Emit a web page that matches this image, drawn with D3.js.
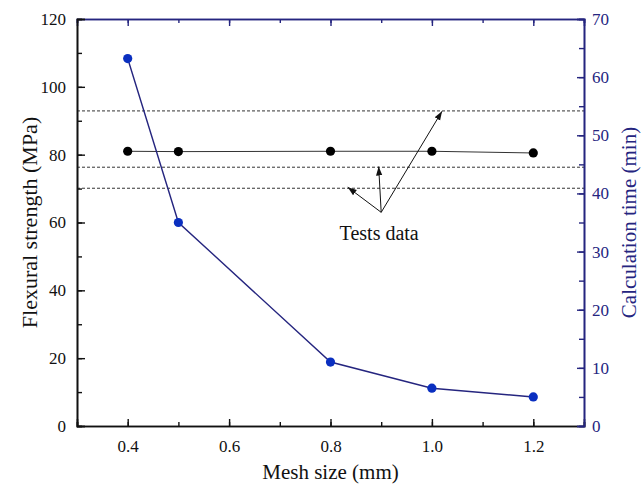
<!DOCTYPE html>
<html>
<head>
<meta charset="utf-8">
<script src="https://cdn.jsdelivr.net/npm/d3@7"></script>
<style>
  body { margin: 0; background: #fff; }
  svg text { font-family: "Liberation Serif", "Times New Roman", Times, "DejaVu Serif", serif !important; }
</style>
</head>
<body>
<script>
// chart values
const meshSize = [0.4, 0.5, 0.8, 1.0, 1.2];
const strength = [81, 80.9, 81, 81, 80.5];       // MPa, left axis
const calcTime = [63.2, 35, 11, 6.5, 5];         // min, right axis
const testLines = [92.9, 76.3, 70.1];            // dashed test data levels (MPa)
const xTicks = [0.4, 0.6, 0.8, 1.0, 1.2];

const navy = "#25257f";
const serif = "'Liberation Serif', 'Times New Roman', Times, serif";
const width = 642, height = 493;
const margin = {top: 19, right: 58, bottom: 67, left: 77};

let svg = d3.select("body").append("svg")
    .attr("width", width)
    .attr("height", height)
    .attr("font-family", serif);

let x = d3.scaleLinear().domain([0.3, 1.3]).range([margin.left, width - margin.right]);
let yL = d3.scaleLinear().domain([0, 120]).range([height - margin.bottom, margin.top]);
let yR = d3.scaleLinear().domain([0, 70]).range([height - margin.bottom, margin.top]);

// dashed reference lines
svg.append("g").selectAll("line")
    .data(testLines)
    .enter().append("line")
    .attr("x1", x(0.3)).attr("x2", x(1.3))
    .attr("y1", d => yL(d)).attr("y2", d => yL(d))
    .style("stroke", "#333")
    .style("stroke-width", 1)
    .style("stroke-dasharray", "3,2");

// axes
function styleAxis(g, color) {
    g.attr("font-family", serif);
    g.select(".domain").style("stroke", color).style("stroke-width", 1.6);
    g.selectAll(".tick line").style("stroke", color).style("stroke-width", 1.4);
    g.selectAll(".tick text")
        .style("fill", color)
        .style("font-size", "17px");
}

// minor ticks first, majors on top
svg.append("g")
    .attr("transform", `translate(0,${height - margin.bottom})`)
    .call(d3.axisBottom(x).tickValues(d3.range(0.3, 1.31, 0.1)).tickSize(-4).tickFormat(""))
    .call(g => styleAxis(g, "#111"));
svg.append("g")
    .attr("transform", `translate(0,${height - margin.bottom})`)
    .call(d3.axisBottom(x).tickValues(xTicks).tickSize(-7).tickPadding(14).tickFormat(d3.format(".1f")))
    .call(g => styleAxis(g, "#111"));

svg.append("g")
    .attr("transform", `translate(0,${margin.top})`)
    .call(d3.axisTop(x).tickValues(d3.range(0.3, 1.31, 0.1)).tickSize(-4).tickFormat(""))
    .call(g => styleAxis(g, navy));
svg.append("g")
    .attr("transform", `translate(0,${margin.top})`)
    .call(d3.axisTop(x).tickValues(xTicks).tickSize(-7).tickFormat(""))
    .call(g => styleAxis(g, navy));

svg.append("g")
    .attr("transform", `translate(${margin.left},0)`)
    .call(d3.axisLeft(yL).ticks(12).tickSize(-5).tickFormat(""))
    .call(g => styleAxis(g, "#111"));
svg.append("g")
    .attr("transform", `translate(${margin.left},0)`)
    .call(d3.axisLeft(yL).ticks(6).tickSize(-8).tickPadding(11))
    .call(g => styleAxis(g, "#111"));

svg.append("g")
    .attr("transform", `translate(${width - margin.right},0)`)
    .call(d3.axisRight(yR).ticks(14).tickSize(-5).tickFormat(""))
    .call(g => styleAxis(g, navy));
svg.append("g")
    .attr("transform", `translate(${width - margin.right},0)`)
    .call(d3.axisRight(yR).ticks(7).tickSize(-7).tickPadding(8))
    .call(g => styleAxis(g, navy));

// axis titles
svg.append("text")
    .attr("x", x(0.8)).attr("y", 479)
    .attr("text-anchor", "middle")
    .style("font-size", "21px").style("fill", "#111")
    .text("Mesh size (mm)");
svg.append("text")
    .attr("transform", `translate(37,${(margin.top + height - margin.bottom) / 2}) rotate(-90)`)
    .attr("text-anchor", "middle")
    .style("font-size", "22px").style("fill", "#111")
    .text("Flexural strength (MPa)");
svg.append("text")
    .attr("transform", `translate(636,${(margin.top + height - margin.bottom) / 2}) rotate(-90)`)
    .attr("text-anchor", "middle")
    .style("font-size", "21px").style("fill", navy)
    .text("Calculation time (min)");

// strength series
let strengthData = meshSize.map((m, i) => ({x: m, y: strength[i]}));
svg.append("path")
    .datum(strengthData)
    .style("fill", "none").style("stroke", "#333").style("stroke-width", 1)
    .attr("d", d3.line().x(d => x(d.x)).y(d => yL(d.y)));
svg.append("g").selectAll("circle")
    .data(strengthData)
    .enter().append("circle")
    .attr("cx", d => x(d.x)).attr("cy", d => yL(d.y)).attr("r", 4.6)
    .style("fill", "#000");

// calculation time series
let timeData = meshSize.map((m, i) => ({x: m, y: calcTime[i]}));
svg.append("path")
    .datum(timeData)
    .style("fill", "none").style("stroke", navy).style("stroke-width", 1.4)
    .attr("d", d3.line().x(d => x(d.x)).y(d => yR(d.y)));
svg.append("g").selectAll("circle")
    .data(timeData)
    .enter().append("circle")
    .attr("cx", d => x(d.x)).attr("cy", d => yR(d.y)).attr("r", 4.6)
    .style("fill", "#0a2fc0");

// "Tests data" annotation with arrows
svg.append("defs").append("marker")
    .attr("id", "arrow")
    .attr("viewBox", "0 0 10 10")
    .attr("refX", 10).attr("refY", 5)
    .attr("markerWidth", 9).attr("markerHeight", 9)
    .attr("markerUnits", "userSpaceOnUse")
    .attr("orient", "auto")
    .append("path")
    .attr("d", "M0,1.5 L10,5 L0,8.5 Z")
    .style("fill", "#111");

let origin = {x: 0.9, y: 63};   // in x / left-axis units
let arrowTips = [{x: 0.834, y: 70.4}, {x: 0.895, y: 76.5}, {x: 1.02, y: 92.8}];
svg.append("g").selectAll("line")
    .data(arrowTips)
    .enter().append("line")
    .attr("x1", x(origin.x)).attr("y1", yL(origin.y))
    .attr("x2", d => x(d.x)).attr("y2", d => yL(d.y))
    .style("stroke", "#111").style("stroke-width", 1)
    .attr("marker-end", "url(#arrow)");

svg.append("text")
    .attr("x", x(0.896)).attr("y", 240)
    .attr("text-anchor", "middle")
    .style("font-size", "20px").style("fill", "#111")
    .text("Tests data");
</script>
</body>
</html>
